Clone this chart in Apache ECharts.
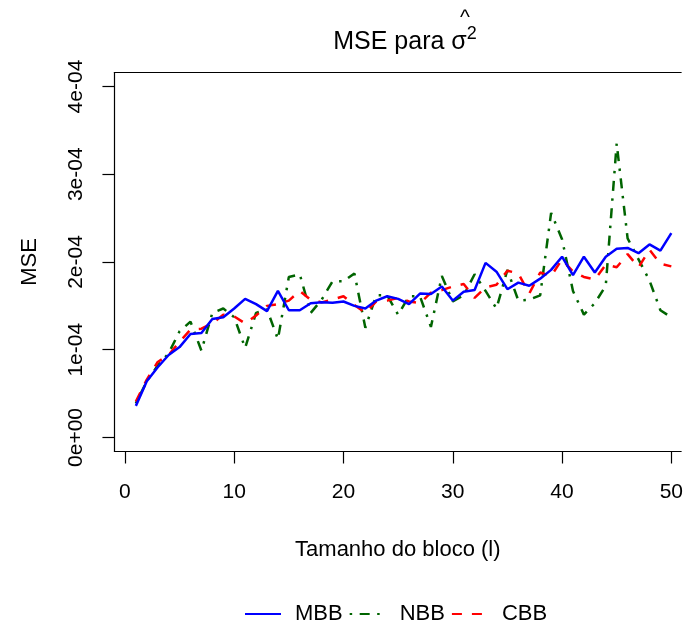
<!DOCTYPE html>
<html>
<head>
<meta charset="utf-8">
<script src="https://cdn.jsdelivr.net/npm/echarts@6/dist/echarts.min.js"></script>
<style>html,body{margin:0;padding:0;background:#fff}#c{width:686px;height:628px}</style>
</head>
<body>
<div id="c"></div>
<script>
// Block sizes (l)
const blockSizes = [1,2,3,4,5,6,7,8,9,10,11,12,13,14,15,16,17,18,19,20,21,22,23,24,25,26,27,28,29,30,31,32,33,34,35,36,37,38,39,40,41,42,43,44,45,46,47,48,49,50];
// MSE values in units of 1e-04
const mbb = [0.36,0.64,0.80,0.94,1.03,1.18,1.19,1.35,1.37,1.47,
             1.58,1.52,1.44,1.67,1.45,1.45,1.53,1.54,1.535,1.55,
             1.50,1.47,1.56,1.61,1.58,1.52,1.64,1.635,1.72,1.56,
             1.66,1.68,1.99,1.89,1.69,1.765,1.73,1.81,1.91,2.06,
             1.85,2.06,1.88,2.06,2.15,2.16,2.10,2.20,2.13,2.33];
const nbb = [0.39,0.64,0.82,0.96,1.21,1.32,0.99,1.42,1.47,1.37,
             1.02,1.42,1.46,1.12,1.83,1.86,1.42,1.57,1.78,1.78,
             1.87,1.25,1.62,1.62,1.40,1.61,1.61,1.26,1.84,1.55,
             1.62,1.86,1.67,1.47,1.91,1.56,1.57,1.62,2.56,2.26,
             1.67,1.40,1.53,1.73,3.35,2.27,2.03,1.79,1.45,1.37];
const cbb = [0.41,0.66,0.86,0.94,1.09,1.23,1.24,1.30,1.40,1.38,
             1.30,1.39,1.50,1.52,1.56,1.67,1.57,1.54,1.57,1.61,
             1.51,1.42,1.55,1.56,1.59,1.55,1.53,1.65,1.68,1.72,
             1.75,1.59,1.71,1.74,1.90,1.87,1.64,1.88,1.84,2.03,
             1.89,1.83,1.80,1.97,1.94,2.09,1.94,2.14,1.98,1.95];
const xTicks = [0,10,20,30,40,50];
const yTicks = [0,1,2,3,4];
const yTickLabels = ['0e+00','1e-04','2e-04','3e-04','4e-04'];
const seriesNames = ['MBB','NBB','CBB'];

const FONT = "'Liberation Sans', Arial, Helvetica, sans-serif";
const pair = arr => blockSizes.map((x,i)=>[x,arr[i]]);

const chart = echarts.init(document.getElementById('c'), null, {renderer:'canvas'});
chart.setOption({
  animation:false,
  backgroundColor:'#fff',
  title:{
    text:'{a|MSE para σ}{s|2}',
    left:400, top:20, textAlign:'center',
    textStyle:{rich:{
      a:{fontSize:25, fontWeight:'normal', fontFamily:FONT, color:'#000', lineHeight:30, verticalAlign:'bottom'},
      s:{fontSize:18, fontWeight:'normal', fontFamily:FONT, color:'#000', lineHeight:30, verticalAlign:'top', padding:[0,0,14,0]}
    }}
  },
  graphic:[{type:'text', left:460, top:8, style:{text:'^', fontSize:21, fontFamily:FONT, fill:'#000'}}],
  grid:{left:114.44, top:72.5, right:0, height:379, show:false, containLabel:false},
  legend:{
    data:seriesNames, left:239, top:598, itemWidth:36, itemHeight:14, itemGap:6,
    itemStyle:{opacity:0},
    textStyle:{fontSize:22, fontFamily:FONT, color:'#000', padding:[0,0,0,9]}
  },
  xAxis:[{
    type:'value', min:-0.96, max:50.9, position:'bottom',
    name:'Tamanho do bloco (l)', nameLocation:'middle', nameGap:87,
    nameTextStyle:{fontSize:22, fontFamily:FONT, color:'#000'},
    axisLine:{show:true, onZero:false, lineStyle:{color:'#000', width:1.2}},
    axisTick:{show:true, customValues:xTicks, length:12, lineStyle:{color:'#000', width:1.2}},
    axisLabel:{customValues:xTicks, fontSize:21, fontFamily:FONT, color:'#000', margin:30},
    splitLine:{show:false}
  },{
    type:'value', min:-0.96, max:50.9, position:'top',
    axisLine:{show:true, onZero:false, lineStyle:{color:'#000', width:1.2}},
    axisTick:{show:false}, axisLabel:{show:false}, splitLine:{show:false}
  }],
  yAxis:{
    type:'value', min:-0.16, max:4.16,
    name:'MSE', nameLocation:'middle', nameGap:74, nameRotate:90,
    nameTextStyle:{fontSize:22, fontFamily:FONT, color:'#000'},
    axisLine:{show:true, onZero:false, lineStyle:{color:'#000', width:1.2}},
    axisTick:{show:true, customValues:yTicks, length:12, lineStyle:{color:'#000', width:1.2}},
    axisLabel:{customValues:yTicks, rotate:90, fontSize:21, fontFamily:FONT, color:'#000', margin:28,
      formatter:v=>{const i=yTicks.indexOf(Math.round(v)); return i>=0?yTickLabels[i]:'';}},
    splitLine:{show:false}
  },
  series:[
    {name:'NBB', type:'line', data:pair(nbb), symbol:'none', z:2,
     lineStyle:{color:'#006400', width:2.5, type:[2.5,7.5,10,7.5], cap:'butt'}, itemStyle:{color:'#006400'}},
    {name:'CBB', type:'line', data:pair(cbb), symbol:'none', z:3,
     lineStyle:{color:'#FF0000', width:2.5, type:[10,10], cap:'butt'}, itemStyle:{color:'#FF0000'}},
    {name:'MBB', type:'line', data:pair(mbb), symbol:'none', z:4,
     lineStyle:{color:'#0000FF', width:2.5, type:'solid'}, itemStyle:{color:'#0000FF'}}
  ]
});
</script>
</body>
</html>
